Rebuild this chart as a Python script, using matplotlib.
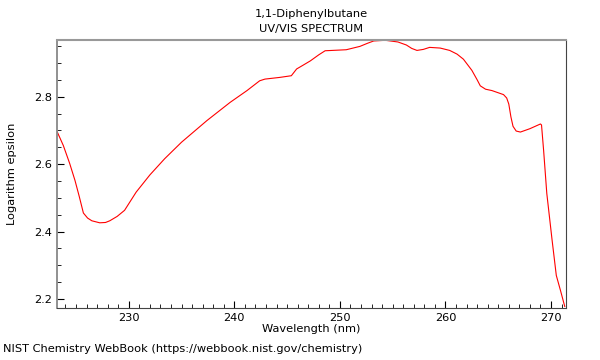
import matplotlib.pyplot as plt
from matplotlib.ticker import MultipleLocator

# spectrum
wavelength = [223.2, 223.8, 224.4, 224.9, 225.3, 225.7, 226.1, 226.5, 227.25,
              227.8, 228.2, 228.9, 229.6, 230.7, 232.0, 233.4, 235.0, 237.4,
              239.6, 241.2, 242.4, 242.9, 244.3, 245.4, 245.9, 246.5, 247.2,
              248.0, 248.6, 250.6, 251.9, 252.6, 253.2, 254.3, 255.5, 256.3,
              256.8, 257.3, 257.9, 258.5, 259.5, 260.4, 261.1, 261.7, 262.5,
              263.0, 263.3, 263.8, 264.4, 265.5, 265.8, 266.0, 266.2, 266.4,
              266.7, 267.1, 268.0, 269.0, 269.1, 269.3, 269.6, 270.1, 270.5,
              270.9, 271.3]
log_eps = [2.697, 2.655, 2.602, 2.552, 2.505, 2.455, 2.440, 2.432, 2.426,
           2.427, 2.432, 2.445, 2.463, 2.517, 2.568, 2.616, 2.665, 2.729,
           2.783, 2.818, 2.847, 2.852, 2.857, 2.862, 2.882, 2.893, 2.906,
           2.924, 2.936, 2.939, 2.949, 2.958, 2.965, 2.967, 2.962, 2.953,
           2.943, 2.937, 2.940, 2.946, 2.944, 2.937, 2.926, 2.911, 2.878,
           2.850, 2.832, 2.822, 2.818, 2.806, 2.796, 2.778, 2.740, 2.712,
           2.698, 2.695, 2.705, 2.719, 2.716, 2.640, 2.513, 2.375, 2.270,
           2.225, 2.178]

fig = plt.figure(figsize=(6, 3.6), dpi=100)
ax = fig.add_axes([0.095, 0.144, 0.848, 0.745])
ax.plot(wavelength, log_eps, color='red', lw=0.8)

ax.set_xlim(223.2, 271.4)
ax.set_ylim(2.173, 2.968)
ax.xaxis.set_major_locator(MultipleLocator(10))
ax.xaxis.set_minor_locator(MultipleLocator(1))
ax.yaxis.set_major_locator(MultipleLocator(0.2))
ax.yaxis.set_minor_locator(MultipleLocator(0.05))
ax.tick_params(which='both', direction='in', top=False, right=False, labelsize=8.2)
ax.tick_params(which='major', length=5)
ax.tick_params(which='minor', length=3)

ax.spines['top'].set_color('#999999')
ax.spines['top'].set_linewidth(1.5)
ax.spines['left'].set_color('#888888')
ax.spines['left'].set_linewidth(1.3)
ax.spines['right'].set_color('#444444')
ax.spines['bottom'].set_color('#444444')

ax.set_xlabel('Wavelength (nm)', fontsize=8.2, labelpad=1)
ax.set_ylabel('Logarithm epsilon', fontsize=8.2, labelpad=12)
ax.set_title('1,1-Diphenylbutane\nUV/VIS SPECTRUM', fontsize=8.2, pad=5.5,
             linespacing=1.7)
fig.text(0.005, 0.022, 'NIST Chemistry WebBook (https://webbook.nist.gov/chemistry)', fontsize=8.2)

fig.savefig('out.png', dpi=100)
